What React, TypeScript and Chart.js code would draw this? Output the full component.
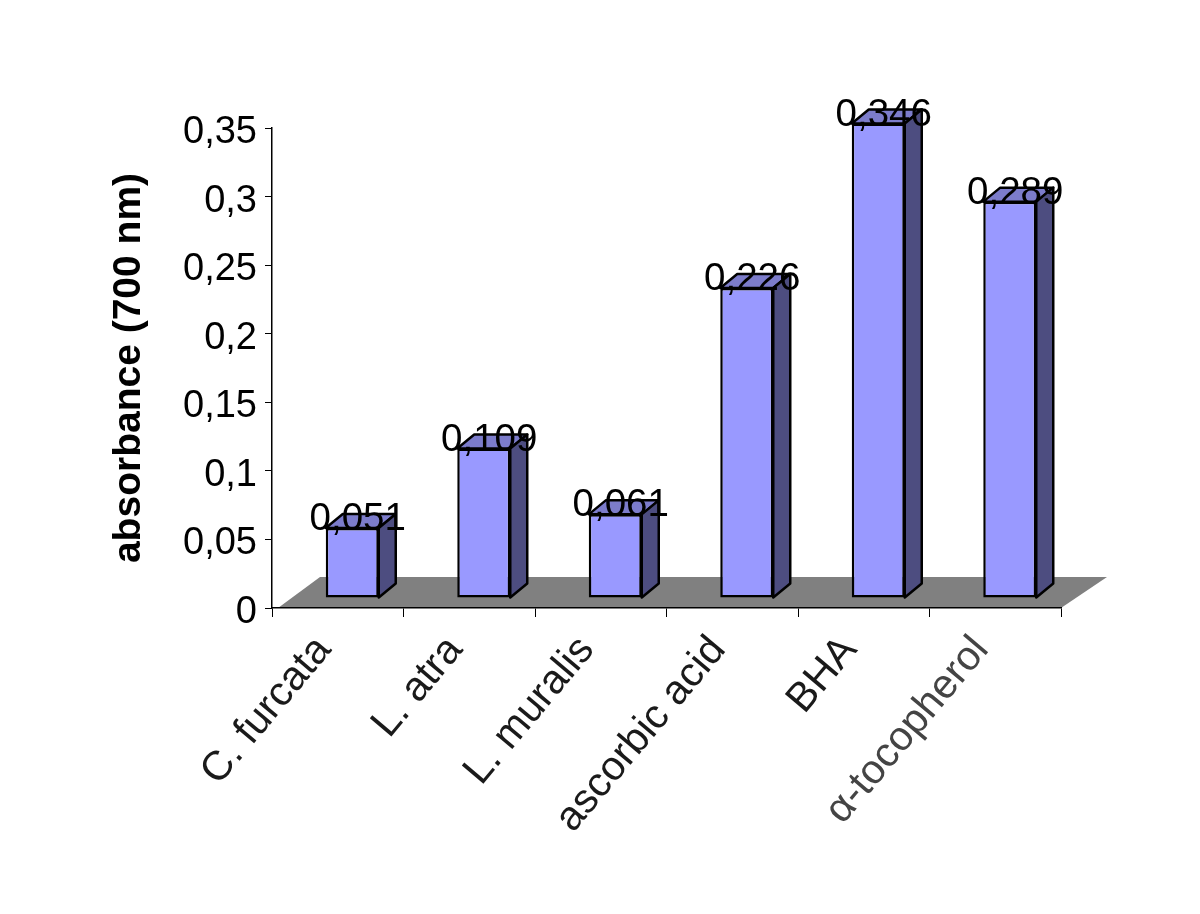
import React, { useEffect, useRef } from "react";
import { Chart, registerables } from "chart.js";

Chart.register(...registerables);

const categories = ["C. furcata", "L. atra", "L. muralis", "ascorbic acid", "BHA", "α-tocopherol"];
const absorbance = [0.051, 0.109, 0.061, 0.226, 0.346, 0.289];
const tickLabels = ["0", "0,05", "0,1", "0,15", "0,2", "0,25", "0,3", "0,35"];
const categoryColors = ["#1a1a1a", "#1a1a1a", "#1a1a1a", "#1a1a1a", "#1a1a1a", "#444"];
const axisTitle = "absorbance (700 nm)";

const FONT = '"Liberation Sans", Arial, sans-serif';
const DX = 14.5;
const DY = -10;
const DEPTH_X = 17;
const DEPTH_Y = -14;

const poly = (ctx: CanvasRenderingContext2D, pts: number[][], fill: string, stroke: boolean) => {
  ctx.beginPath();
  pts.forEach((p, i) => (i ? ctx.lineTo(p[0], p[1]) : ctx.moveTo(p[0], p[1])));
  ctx.closePath();
  ctx.fillStyle = fill;
  ctx.fill();
  if (stroke) {
    ctx.lineWidth = 2.5;
    ctx.strokeStyle = "#000";
    ctx.lineJoin = "round";
    ctx.stroke();
  }
};

const box3d = {
  id: "box3d",
  beforeDraw(chart: any) {
    const { ctx, scales } = chart;
    if (!chart.$shifted) {
      chart.$shifted = true;
      scales.y.getLabelItems().forEach((it: any) => {
        it.options.translation[1] += 4.5;
      });
      scales.x.getLabelItems().forEach((it: any) => {
        it.options.translation[0] -= 14;
        it.options.translation[1] += 2;
      });
    }
    const y0 = scales.y.getPixelForValue(0);
    const l = scales.x.left;
    const r = scales.x.right;
    poly(ctx, [[l + 6, y0], [r, y0], [r + 46, y0 - 31], [l + 48, y0 - 31]], "#808080", false);
  },
  beforeDatasetDraw(chart: any, args: any) {
    const { ctx } = chart;
    ctx.save();
    ctx.translate(DX, DY);
    chart.getDatasetMeta(args.index).data.forEach((el: any) => {
      const a = el.x - el.width / 2;
      const b = el.x + el.width / 2;
      poly(ctx, [[a, el.y], [a + DEPTH_X, el.y + DEPTH_Y], [b + DEPTH_X, el.y + DEPTH_Y], [b, el.y]], "#7C7CCB", true);
      poly(ctx, [[b, el.y], [b + DEPTH_X, el.y + DEPTH_Y], [b + DEPTH_X, el.base + DEPTH_Y], [b, el.base]], "#4D4D80", true);
    });
  },
  afterDatasetDraw(chart: any) {
    chart.ctx.restore();
  },
  afterDatasetsDraw(chart: any) {
    const { ctx } = chart;
    ctx.save();
    ctx.font = `38.5px ${FONT}`;
    ctx.fillStyle = "#000";
    ctx.textAlign = "center";
    ctx.textBaseline = "middle";
    chart.getDatasetMeta(0).data.forEach((el: any, i: number) => {
      ctx.fillText(String(absorbance[i]).replace(".", ","), el.x + DX + 5.5, el.y + DY - 8.5);
    });
    ctx.restore();
  },
};

export default function App() {
  const ref = useRef<HTMLCanvasElement>(null);
  useEffect(() => {
    const chart = new Chart(ref.current!, {
      type: "bar",
      data: {
        labels: categories,
        datasets: [
          {
            data: absorbance,
            backgroundColor: "#9999FF",
            borderColor: "#000",
            borderWidth: 2.5,
            borderSkipped: false,
            categoryPercentage: 1,
            barPercentage: 0.403,
          },
        ],
      },
      options: {
        responsive: false,
        animation: false,
        devicePixelRatio: 1,
        layout: { padding: { left: 0, top: 128, right: 139, bottom: 0 } },
        plugins: { legend: { display: false }, tooltip: { enabled: false } },
        scales: {
          x: {
            afterFit: (s: any) => {
              s.height = 306;
            },
            grid: { drawOnChartArea: false, drawTicks: true, tickLength: 9, color: "#000", lineWidth: 1, offset: true },
            border: { color: "#000", width: 1.5 },
            ticks: {
              autoSkip: false,
              minRotation: 50,
              maxRotation: 50,
              padding: 8,
              font: { family: FONT, size: 41 },
              color: categoryColors,
            },
          },
          y: {
            min: 0,
            max: 0.35,
            afterFit: (s: any) => {
              s.width = 272;
            },
            grid: { drawOnChartArea: false, drawTicks: true, tickLength: 7, color: "#000", lineWidth: 1 },
            border: { color: "#000", width: 1.5 },
            ticks: {
              stepSize: 0.05,
              padding: 8,
              font: { family: FONT, size: 38 },
              color: "#000",
              callback: (_v: any, i: number) => tickLabels[i],
            },
            title: {
              display: true,
              text: axisTitle,
              color: "#000",
              font: { family: FONT, size: 39, weight: "bold" },
              padding: { top: 106, bottom: 0 },
            },
          },
        },
      },
      plugins: [box3d],
    } as any);
    return () => chart.destroy();
  }, []);
  return (
    <div style={{ position: "absolute", left: 0, top: 0, width: 1200, height: 914, background: "#fff" }}>
      <canvas ref={ref} width={1200} height={914} style={{ display: "block" }} />
    </div>
  );
}
